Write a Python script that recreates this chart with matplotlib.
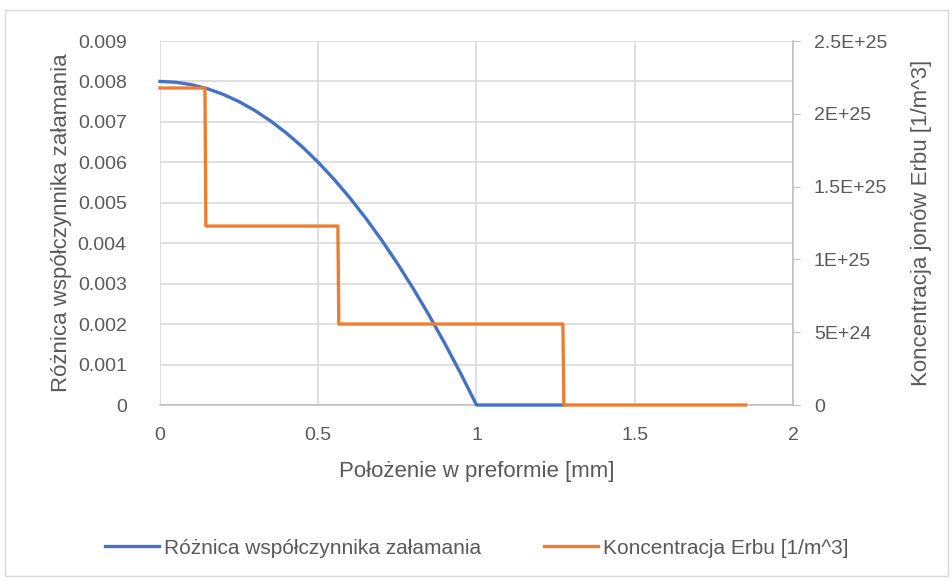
import matplotlib.pyplot as plt
from matplotlib.patches import Rectangle

# blue curve: refractive index difference
x_n = [0.0, 0.05, 0.1, 0.15, 0.2, 0.25, 0.3, 0.35, 0.4, 0.45, 0.5,
       0.55, 0.6, 0.65, 0.7, 0.75, 0.8, 0.85, 0.9, 0.95, 1.0, 1.273]
dn = [0.00800, 0.00798, 0.00792, 0.00782, 0.00768, 0.00750, 0.00728,
      0.00702, 0.00672, 0.00638, 0.00600, 0.00558, 0.00512, 0.00462,
      0.00408, 0.00350, 0.00288, 0.00222, 0.00152, 0.00078, 0.0, 0.0]

# orange step: erbium concentration
x_er = [0.0, 0.142, 0.145, 0.562, 0.565, 1.273, 1.276, 1.85]
er = [2.177e25, 2.177e25, 1.229e25, 1.229e25, 0.556e25, 0.556e25, 0.0, 0.0]

blue = '#4472C4'
orange = '#ED7D31'
grey = '#595959'
grid = '#D9D9D9'

plt.rcParams['font.family'] = ['Liberation Sans', 'DejaVu Sans']

fig = plt.figure(figsize=(9.53, 5.81), dpi=100)
fig.patches.append(Rectangle((5 / 953, 5 / 581), 943 / 953, 566 / 581,
                             transform=fig.transFigure, fill=False,
                             edgecolor='#D9D9D9', linewidth=1.0))

ax = fig.add_axes([160 / 953, 1 - 405 / 581, 633 / 953, 364 / 581])
ax2 = ax.twinx()

ax.plot(x_n, dn, color=blue, linewidth=2.4, clip_on=False, zorder=3,
        label='Różnica współczynnika załamania')
ax2.plot(x_er, er, color=orange, linewidth=2.4, clip_on=False, zorder=3,
         label='Koncentracja Erbu [1/m^3]')

ax.set_xlim(0, 2)
ax.set_ylim(0, 0.009)
ax2.set_ylim(0, 2.5e25)

ax.set_xticks([0, 0.5, 1, 1.5, 2])
ax.set_xticklabels(['0', '0.5', '1', '1.5', '2'])
ax.set_yticks([i * 0.001 for i in range(10)])
ax.set_yticklabels(['0'] + ['%.3f' % (i * 0.001) for i in range(1, 10)])
ax2.set_yticks([0, 0.5e25, 1e25, 1.5e25, 2e25, 2.5e25])
ax2.set_yticklabels(['0', '5E+24', '1E+25', '1.5E+25', '2E+25', '2.5E+25'])

ax.grid(True, color=grid, linewidth=1.2)
ax.set_axisbelow(True)
for s in ('top', 'left', 'right'):
    ax.spines[s].set_visible(False)
ax.spines['bottom'].set_color('#BFBFBF')
ax.spines['bottom'].set_linewidth(1.2)
for s in ('top', 'left', 'bottom'):
    ax2.spines[s].set_visible(False)
ax2.spines['right'].set_color('#BFBFBF')
ax2.spines['right'].set_linewidth(1.2)

ax.tick_params(axis='x', length=0, labelsize=14, labelcolor=grey, pad=16)
ax.tick_params(axis='y', length=0, labelsize=14, labelcolor=grey, pad=24)
ax2.tick_params(axis='y', length=5, color='#BFBFBF', labelsize=14, labelcolor=grey, pad=10)

ax.set_xlabel('Położenie w preformie [mm]', fontsize=16, color=grey, labelpad=12)
ax.set_ylabel('Różnica współczynnika załamania', fontsize=16, color=grey, labelpad=4)
ax2.set_ylabel('Koncentracja jonów Erbu [1/m^3]', fontsize=16, color=grey, labelpad=17)

h1, l1 = ax.get_legend_handles_labels()
h2, l2 = ax2.get_legend_handles_labels()
fig.legend(h1 + h2, l1 + l2, loc='center', bbox_to_anchor=(0.5, 1 - 548 / 581),
           ncol=2, frameon=False, fontsize=15, labelcolor=grey,
           handlelength=2.6, handletextpad=0.25, columnspacing=3.0)

fig.savefig('out.png', dpi=100)
